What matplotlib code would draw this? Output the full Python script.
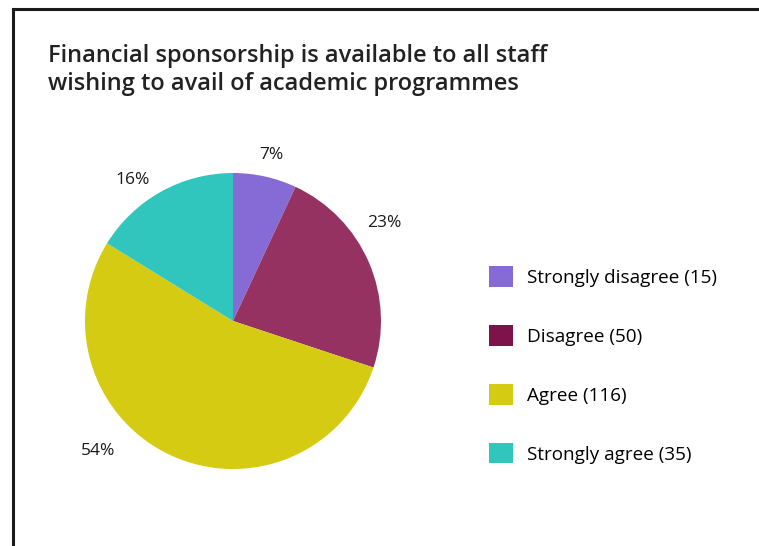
import matplotlib.pyplot as plt
from matplotlib.patches import Patch
from matplotlib.lines import Line2D

plt.rcParams['font.family'] = ['Open Sans', 'DejaVu Sans']

categories = ['Strongly disagree', 'Disagree', 'Agree', 'Strongly agree']
counts = [15, 50, 116, 35]
pct_labels = ['7%', '23%', '54%', '16%']

slice_colors = ['#866bd6', '#963262', '#d4cb12', '#30c6bd']
legend_colors = ['#866bd6', '#7e124a', '#d4cb12', '#30c6bd']

# where each percentage label sits, in pie units (radius = 1)
label_pos = [(0.26, 1.12), (1.02, 0.66), (-0.91, -0.88), (-0.68, 0.95)]

W, H = 759, 546
fig = plt.figure(figsize=(W / 100, H / 100), dpi=100)

# frame lines on the left and top
fig.add_artist(Line2D([13 / W, 13 / W], [0, 1 - 9 / H], color='#1a1a1a', lw=2.2))
fig.add_artist(Line2D([13 / W, 1], [1 - 9 / H, 1 - 9 / H], color='#1a1a1a', lw=2.2))

fig.text(48 / W, 1 - 90 / H, 'Financial sponsorship is available to all staff\n'
         'wishing to avail of academic programmes',
         fontsize=17, fontweight='semibold', color='#222222',
         va='baseline', ha='left', linespacing=1.2)

cx, cy, r = 233, 321, 148
ax = fig.add_axes([(cx - r) / W, 1 - (cy + r) / H, 2 * r / W, 2 * r / H])
wedges, _ = ax.pie(counts, colors=slice_colors, startangle=90, counterclock=False,
                   radius=1, wedgeprops=dict(linewidth=0))
ax.set_xlim(-1, 1)
ax.set_ylim(-1, 1)
ax.set_aspect('equal')
ax.axis('off')

for txt, (x, y) in zip(pct_labels, label_pos):
    ax.text(x, y, txt, ha='center', va='center', fontsize=12.5, color='#1a1a1a')

handles = [Patch(facecolor=c, edgecolor='none') for c in legend_colors]
labels = [f'{c} ({n})' for c, n in zip(categories, counts)]
fig.legend(handles, labels, loc='upper left', bbox_to_anchor=(489 / W, 1 - 266 / H),
           frameon=False, fontsize=13.6, handlelength=1.27, handleheight=1.3,
           handletextpad=0.74, labelspacing=2.03, borderpad=0, borderaxespad=0)

fig.savefig('out.png', dpi=100)
